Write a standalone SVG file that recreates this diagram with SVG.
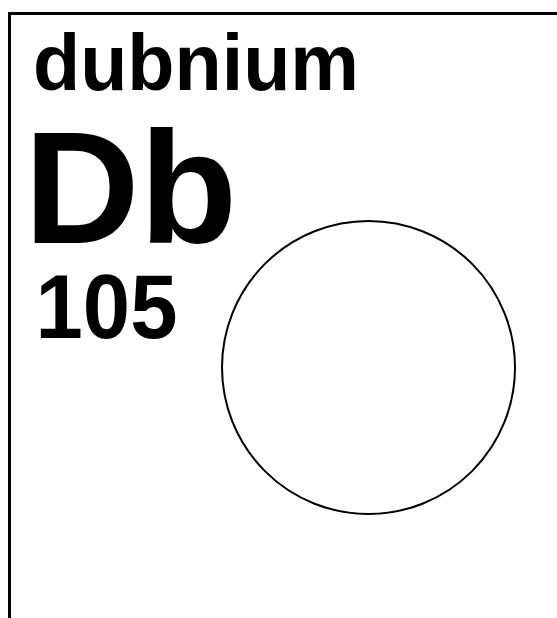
<svg xmlns="http://www.w3.org/2000/svg" width="557" height="618" viewBox="0 0 557 618">
<style>
.t{font-family:"Liberation Sans",Arial,sans-serif;font-weight:bold;fill:#000}
</style>
<rect x="0" y="0" width="557" height="618" fill="#fff"/>
<g id="frame"><rect x="9.5" y="13.5" width="600" height="700" fill="none" stroke="#000" stroke-width="3"/></g>
<g id="name"><text class="t" x="33" y="90" font-size="79" textLength="326" lengthAdjust="spacingAndGlyphs">dubnium</text></g>
<g id="symbol"><text class="t" x="24" y="242.5" font-size="160">Db</text></g>
<g id="number"><text class="t" x="35.5" y="338" font-size="90" textLength="142" lengthAdjust="spacingAndGlyphs">105</text></g>
<g id="orbital"><circle cx="368.5" cy="367.5" r="146.5" fill="none" stroke="#000" stroke-width="2"/></g>
</svg>
